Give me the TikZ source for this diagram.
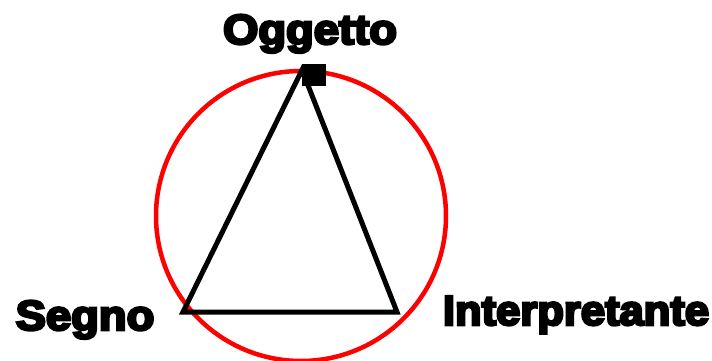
\documentclass[tikz,border=0pt]{standalone}
\usepackage{fontspec}
\newfontfamily\heavyfont[FakeBold=6]{Liberation Sans Bold}
\usetikzlibrary{positioning}

\begin{document}
\begin{tikzpicture}[x=1pt, y=-1pt, every node/.style={font=\heavyfont\fontsize{42}{42}\selectfont, inner sep=0pt, xscale=1.08}]
	\useasboundingbox (0,0) rectangle (712,361);
	\draw[red, line width=4.5pt] (301,216) circle (145);
	\coordinate (O) at (302,70);
	\coordinate (S) at (183,312);
	\coordinate (I) at (397,312);
	\draw[line width=5pt, line join=miter] (O) -- (S) -- (I) -- cycle;
	\node[fill=black, minimum size=22pt] (sq) at (314,75) {};
	\node[anchor=base] (oggetto) at (310,44) {Oggetto};
	\node[anchor=base] (segno) at (85,330) {Segno};
	\node[anchor=base, xscale=0.96] (interp) at (576,325) {Interpretante};
\end{tikzpicture}
\end{document}
